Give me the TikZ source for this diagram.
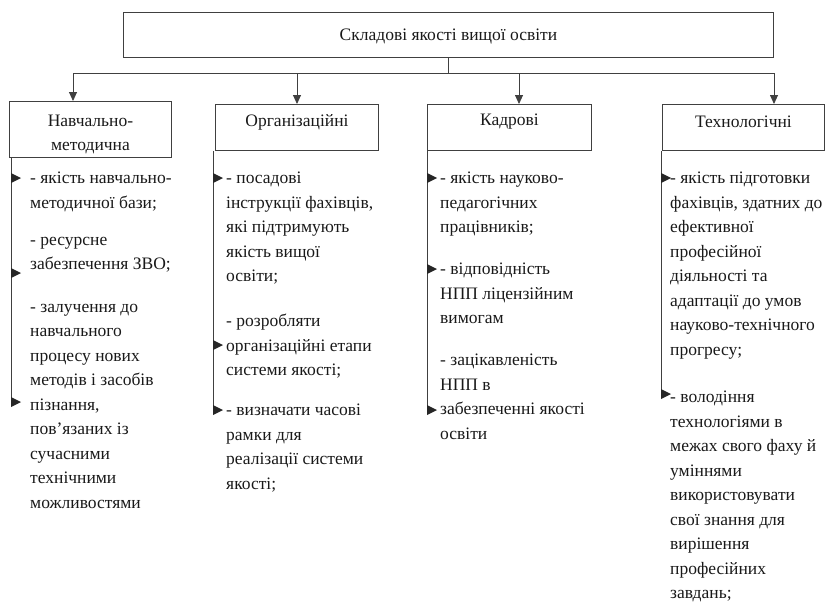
\documentclass[tikz,border=0pt]{standalone}
\usepackage{fontspec}
\setmainfont{Liberation Serif}
\usetikzlibrary{arrows.meta}
\begin{document}
\begin{tikzpicture}[x=1pt,y=-1pt,
  ln/.style={draw=black!75, line width=0.9pt},
  box/.style={ln, inner sep=0pt, anchor=north west},
  lbl/.style={inner sep=0pt, align=center, font=\fontsize{17.5}{24.5}\selectfont, text=black!90},
  arr/.style={ln, -{Triangle[length=9pt,width=8pt]}},
  item/.style={anchor=north west, inner sep=0pt, align=left, font=\fontsize{17.5}{24.5}\selectfont, text=black!90},
  tri/.pic={\fill[black!85] (0,-5) -- (10,0) -- (0,5) -- cycle;}
]
\useasboundingbox (0,0) rectangle (837,605);
% top box
\node[box, minimum width=650pt, minimum height=45pt] (top) at (123,12) {};
\node[lbl] (toplbl) at ([yshift=-2pt]top.center) {Складові якості вищої освіти};
% category boxes
\node[box, minimum width=162pt, minimum height=56pt] (b1) at (9,101) {};
\node[box, minimum width=163pt, minimum height=46pt] (b2) at (215,104) {};
\node[box, minimum width=164pt, minimum height=46pt] (b3) at (427,104) {};
\node[box, minimum width=162pt, minimum height=46pt] (b4) at (662,104) {};
\node[lbl] (l1) at ([yshift=-5pt]b1.center) {Навчально-\\методична};
\node[lbl] (l2) at ([yshift=-18pt]b2.north) {Організаційні};
\node[lbl] (l3) at ([yshift=-18pt]b3.north) {Кадрові};
\node[lbl] (l4) at ([yshift=-18pt]b4.north) {Технологічні};
% bus
\coordinate (bus) at (448,73);
\coordinate (j1) at (73,73);
\coordinate (j2) at (297,73);
\coordinate (j3) at (519,73);
\coordinate (j4) at (774,73);
\draw[ln] (top.south -| bus) -- (bus);
\draw[ln] (j1) -- (j4);
\draw[arr] (j1) -- (j1 |- b1.north);
\draw[arr] (j2) -- (j2 |- b2.north);
\draw[arr] (j3) -- (j3 |- b3.north);
\draw[arr] (j4) -- (j4 |- b4.north);
% side lines
\coordinate (s1) at (11,404);
\coordinate (s2) at (213,411);
\coordinate (s3) at (427,412);
\coordinate (s4) at (661,398);
\draw[ln] (s1 |- b1.south) -- (s1);
\draw[ln] (s2 |- b2.south) -- (s2);
\draw[ln] (s3 |- b3.south) -- (s3);
\draw[ln] (s4 |- b4.south) -- (s4);
% markers
\foreach \y in {178,273,402} \pic at (11,\y) {tri};
\foreach \y in {178,345,410} \pic at (213,\y) {tri};
\foreach \y in {178,269,410} \pic at (427,\y) {tri};
\foreach \y in {178,394} \pic at (661,\y) {tri};
% items column 1
\node[item] (i11) at (30,172) {- якість навчально-\\методичної бази;};
\node[item] (i12) at (30,237) {- ресурсне\\забезпечення ЗВО;};
\node[item] (i13) at (30,304) {- залучення до\\навчального\\процесу нових\\методів і засобів\\пізнання,\\пов’язаних із\\сучасними\\технічними\\можливостями};
% column 2
\node[item] (i21) at (226,172) {- посадові\\інструкції фахівців,\\які підтримують\\якість вищої\\освіти;};
\node[item] (i22) at (226,314) {- розробляти\\організаційні етапи\\системи якості;};
\node[item] (i23) at (226,404) {- визначати часові\\рамки для\\реалізації системи\\якості;};
% column 3
\node[item] (i31) at (440,172) {- якість науково-\\педагогічних\\працівників;};
\node[item] (i32) at (440,263) {- відповідність\\НПП ліцензійним\\вимогам};
\node[item] (i33) at (440,354) {- зацікавленість\\НПП в\\забезпеченні якості\\освіти};
% column 4
\node[item] (i41) at (670,172) {- якість підготовки\\фахівців, здатних до\\ефективної\\професійної\\діяльності та\\адаптації до умов\\науково-технічного\\прогресу;};
\node[item] (i42) at (670,391) {- володіння\\технологіями в\\межах свого фаху й\\уміннями\\використовувати\\свої знання для\\вирішення\\професійних\\завдань;};
\end{tikzpicture}
\end{document}
